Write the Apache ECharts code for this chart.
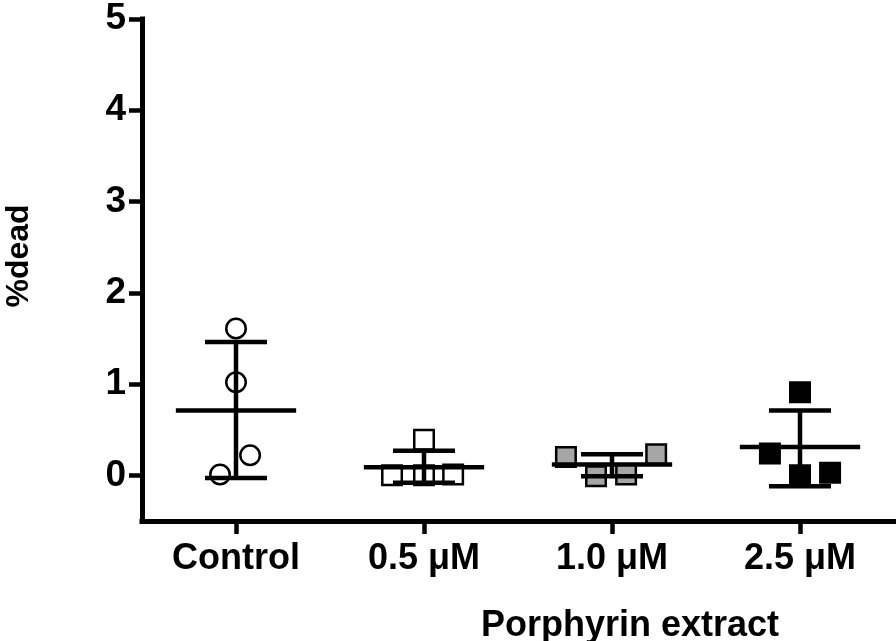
<!DOCTYPE html>
<html>
<head>
<meta charset="utf-8">
<script src="https://cdn.jsdelivr.net/npm/echarts@6/dist/echarts.min.js"></script>
<style>
  html, body { margin: 0; padding: 0; background: #fff; }
  #chart { width: 896px; height: 641px; }
</style>
</head>
<body>
<div id="chart"></div>
<script>
// groups on the x axis
const groups = ['Control', '0.5 μM', '1.0 μM', '2.5 μM']
const yTicks = [0, 1, 2, 3, 4, 5]

// individual points (%dead) and their horizontal scatter, in category units
const controlVals = [1.61, 1.02, 0.22, 0.01]
const controlJitter = [0, 0, 0.075, -0.085]
const low05Vals = [0.39, 0.0, 0.0, 0.01]
const low05Jitter = [0, -0.17, 0, 0.155]
const mid10Vals = [0.20, 0.23, -0.01, 0.01]
const mid10Jitter = [-0.245, 0.235, -0.085, 0.075]
const high25Vals = [0.91, 0.24, 0.0, 0.03]
const high25Jitter = [0, -0.16, 0, 0.16]

// mean and SD bars
const means = [0.71, 0.09, 0.12, 0.31]
const sdLow = [-0.03, -0.08, -0.01, -0.12]
const sdHigh = [1.46, 0.27, 0.23, 0.71]

const FONT = '"Liberation Sans", Arial, sans-serif'

function points(idx, vals, jitter) {
  return vals.map((v, i) => [idx + jitter[i], v])
}

function pointSeries(idx, vals, jitter, symbol, fill) {
  return {
    type: 'scatter',
    z: 2,
    symbol: symbol,
    symbolSize: 19.5,
    itemStyle: {
      color: fill,
      borderColor: '#000',
      borderWidth: 2.5,
      opacity: 1,
    },
    emphasis: { disabled: true },
    data: points(idx, vals, jitter),
  }
}

const myChart = echarts.init(document.getElementById('chart'))

const option = {
  animation: false,
  grid: {
    left: 142,
    right: 2,
    top: 19,
    bottom: 120,
  },
  xAxis: {
    type: 'value',
    min: -0.5,
    max: 3.5,
    splitLine: { show: false },
    axisLine: {
      show: true,
      onZero: false,
      lineStyle: { color: '#000', width: 5, cap: 'square' },
    },
    axisTick: {
      show: true,
      customValues: [0, 1, 2, 3],
      length: 13,
      lineStyle: { color: '#000', width: 4.5 },
    },
    axisLabel: {
      customValues: [0, 1, 2, 3],
      formatter: (v) => groups[Math.round(v)],
      margin: 20,
      color: '#000',
      fontSize: 36,
      fontWeight: 'bold',
      fontFamily: FONT,
    },
  },
  yAxis: {
    type: 'value',
    min: -0.5,
    max: 5,
    splitLine: { show: false },
    axisLine: {
      show: true,
      onZero: false,
      lineStyle: { color: '#000', width: 5, cap: 'square' },
    },
    axisTick: {
      show: true,
      customValues: yTicks,
      length: 13,
      lineStyle: { color: '#000', width: 4.5 },
    },
    axisLabel: {
      customValues: yTicks,
      margin: 16,
      color: '#000',
      fontSize: 37,
      fontWeight: 'bold',
      fontFamily: FONT,
    },
  },
  graphic: [
    {
      type: 'text',
      x: 19,
      y: 256,
      rotation: Math.PI / 2,
      style: {
        text: '%dead',
        x: 0,
        y: 0,
        textAlign: 'center',
        textVerticalAlign: 'middle',
        font: 'bold 32px ' + FONT,
        fill: '#000',
      },
    },
    {
      type: 'text',
      x: 630,
      y: 626,
      style: {
        text: 'Porphyrin extract',
        x: 0,
        y: 0,
        textAlign: 'center',
        textVerticalAlign: 'middle',
        font: 'bold 36px ' + FONT,
        fill: '#000',
      },
    },
  ],
  series: [
    pointSeries(0, controlVals, controlJitter, 'circle', '#fff'),
    pointSeries(1, low05Vals, low05Jitter, 'rect', '#fff'),
    pointSeries(2, mid10Vals, mid10Jitter, 'rect', '#a6a6a6'),
    pointSeries(3, high25Vals, high25Jitter, 'rect', '#000'),
    {
      // mean line with SD whiskers
      type: 'custom',
      z: 3,
      silent: true,
      data: groups.map((g, i) => [i, means[i], sdLow[i], sdHigh[i]]),
      encode: { x: 0, y: 1 },
      renderItem: (params, api) => {
        const x = api.value(0)
        const pM = api.coord([x, api.value(1)])
        const pLo = api.coord([x, api.value(2)])
        const pHi = api.coord([x, api.value(3)])
        const unit = api.size([1, 0])[0]
        const mw = unit * 0.32
        const cw = unit * 0.165
        const style = { stroke: '#000', lineWidth: 4.5 }
        return {
          type: 'group',
          children: [
            { type: 'line', shape: { x1: pLo[0], y1: pLo[1], x2: pHi[0], y2: pHi[1] }, style },
            { type: 'line', shape: { x1: pM[0] - mw, y1: pM[1], x2: pM[0] + mw, y2: pM[1] }, style },
            { type: 'line', shape: { x1: pHi[0] - cw, y1: pHi[1], x2: pHi[0] + cw, y2: pHi[1] }, style },
            { type: 'line', shape: { x1: pLo[0] - cw, y1: pLo[1], x2: pLo[0] + cw, y2: pLo[1] }, style },
          ],
        }
      },
    },
  ],
}

myChart.setOption(option)
</script>
</body>
</html>
